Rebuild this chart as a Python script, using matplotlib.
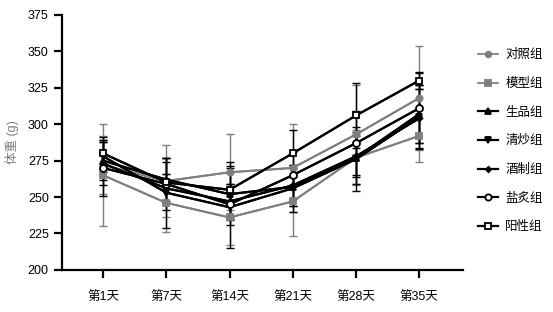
import matplotlib
matplotlib.use('Agg')
import matplotlib.pyplot as plt
import numpy as np

plt.rcParams['font.family'] = ['Liberation Sans', 'Noto Sans CJK SC']

days = ['第1天', '第7天', '第14天', '第21天', '第28天', '第35天']
groups = ['对照组', '模型组', '生品组', '清炒组', '酒制组', '盐炙组', '阳性组']

# mean body weight (g)
duizhao = [272, 261, 267, 270, 293, 318]
moxing = [265, 246, 236, 247, 277, 292]
shengpin = [275, 262, 252, 257, 277, 307]
qingchao = [278, 253, 243, 256, 276, 305]
jiuzhi = [273, 256, 247, 258, 278, 304]
yanzhi = [270, 259, 245, 265, 287, 311]
yangxing = [280, 260, 255, 280, 306, 330]

# SD
duizhao_sd = [20, 25, 26, 30, 34, 36]
moxing_sd = [35, 20, 19, 24, 19, 18]
shengpin_sd = [13, 15, 18, 13, 18, 20]
qingchao_sd = [11, 24, 28, 16, 22, 22]
jiuzhi_sd = [15, 10, 12, 14, 14, 20]
yanzhi_sd = [19, 18, 14, 16, 22, 24]
yangxing_sd = [11, 14, 19, 16, 22, 6]

means = [duizhao, moxing, shengpin, qingchao, jiuzhi, yanzhi, yangxing]
sds = [duizhao_sd, moxing_sd, shengpin_sd, qingchao_sd, jiuzhi_sd, yanzhi_sd, yangxing_sd]

gray = '#7f7f7f'
colors = [gray, gray, 'black', 'black', 'black', 'black', 'black']
markers = ['o', 's', '^', 'v', 'D', 'o', 's']
msizes = [4.5, 4.5, 4.5, 4.5, 3, 5, 5]
faces = [gray, gray, 'black', 'black', 'black', 'white', 'white']

fig = plt.figure(figsize=(5.53, 3.12), dpi=100)
ax = fig.add_axes([0.112, 0.135, 0.725, 0.817])

x = np.arange(len(days))
for i in range(len(groups)):
    ax.errorbar(x, means[i], yerr=sds[i], color=colors[i], ecolor=colors[i],
                elinewidth=1, capsize=3, capthick=1, zorder=2)
for i in range(len(groups)):
    lw = 1.3 if colors[i] == gray else 1.6
    ax.plot(x, means[i], color=colors[i], lw=lw, marker=markers[i],
            markersize=msizes[i], markerfacecolor=faces[i],
            markeredgecolor=colors[i], markeredgewidth=1.3,
            label=groups[i], zorder=3)

ax.set_xlim(-0.65, 5.69)
ax.set_ylim(200, 375)
ax.set_yticks(np.arange(200, 376, 25))
ax.set_xticks(x)
ax.set_xticklabels(days)
ax.spines['top'].set_visible(False)
ax.spines['right'].set_visible(False)
for s in ['left', 'bottom']:
    ax.spines[s].set_linewidth(1.6)
ax.tick_params(axis='both', width=1.6, length=6, labelsize=9, colors='black')
ax.tick_params(axis='x', pad=9)
ax.set_ylabel('体重 (g)', fontsize=9, color=gray, labelpad=6)

fig.legend(loc='upper left', bbox_to_anchor=(0.855, 0.858), frameon=False,
           fontsize=9, handlelength=1.6, labelspacing=1.33, handletextpad=0.6,
           borderaxespad=0, markerscale=0.9)

fig.savefig('out.png', dpi=100)
